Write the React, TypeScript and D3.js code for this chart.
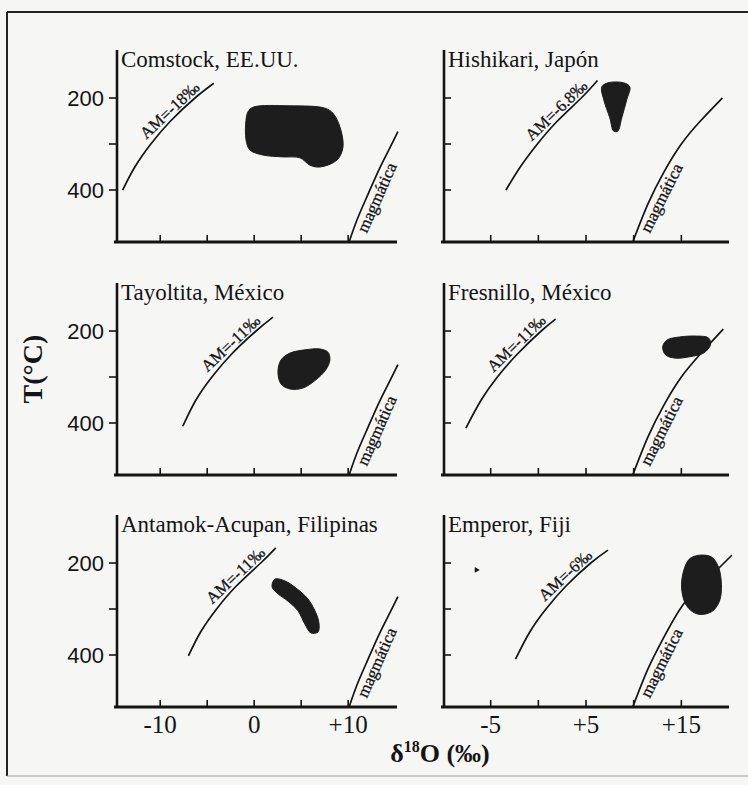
import * as d3 from 'd3';

type Pt = [number, number]; // [δ18O ‰, T °C]

const panelTitles = [
  'Comstock, EE.UU.',
  'Hishikari, Japón',
  'Tayoltita, México',
  'Fresnillo, México',
  'Antamok-Acupan, Filipinas',
  'Emperor, Fiji',
];

const amLabels = ['AM=-18‰', 'AM=-6.8‰', 'AM=-11‰', 'AM=-11‰', 'AM=-11‰', 'AM=-6‰'];

// meteoric-water equilibrium curves
const amCurves: Pt[][] = [
  [[-14, 400], [-12.7, 350], [-11.0, 300], [-8.9, 250], [-6.3, 200], [-4.3, 168]],
  [[-3.4, 400], [-1.9, 350], [-0.1, 300], [2.0, 250], [4.5, 200], [6.2, 162]],
  [[-7.6, 407], [-6.2, 350], [-4.5, 300], [-2.4, 250], [0.2, 200], [2.0, 170]],
  [[-7.6, 411], [-6.0, 350], [-4.3, 300], [-2.2, 250], [0.3, 200], [1.8, 174]],
  [[-7.0, 402], [-5.7, 350], [-4.0, 300], [-1.9, 250], [0.7, 200], [2.3, 167]],
  [[-2.4, 409], [-0.9, 350], [0.8, 300], [2.9, 250], [5.5, 200], [7.3, 172]],
];

// magmatic-water curves
const magmaticCurves: Pt[][] = [
  [[10.1, 513], [11, 462], [12.1, 410], [13.3, 355], [14.4, 310], [15.3, 273]],
  [[9.9, 513], [11.5, 430], [13.2, 360], [15.0, 300], [17.0, 250], [19.3, 200]],
  [[10.1, 513], [11, 462], [12.1, 410], [13.3, 355], [14.4, 310], [15.3, 273]],
  [[9.9, 513], [11.5, 430], [13.2, 360], [15.0, 300], [17.0, 250], [19.4, 196]],
  [[10.1, 513], [11, 462], [12.1, 410], [13.3, 355], [14.4, 310], [15.3, 273]],
  [[9.9, 513], [11.5, 430], [13.2, 360], [15.2, 290], [17.5, 240], [20.3, 183]],
];

// outlines of the measured fields
const blobs: Pt[][] = [
  [[-0.66, 230], [-0.13, 220], [3.8, 217], [7.53, 222], [8.38, 233], [9.13, 263], [9.45, 307],
    [8.81, 335], [7.0, 350], [5.94, 346], [4.87, 330], [3.06, 328], [0.94, 324], [-0.45, 313],
    [-0.87, 291], [-0.87, 248]],
  [[6.65, 176], [7.3, 167], [8.95, 167], [9.6, 176], [9.27, 204], [8.75, 243], [8.33, 272],
    [7.9, 272], [7.49, 243], [6.86, 204]],
  [[2.53, 289], [2.85, 263], [3.81, 248], [5.4, 241], [7.0, 239], [7.85, 246], [8.06, 263],
    [7.6, 285], [6.57, 306], [5.19, 324], [3.81, 326], [2.85, 315]],
  [[13.04, 235], [13.46, 220], [14.8, 213], [16.6, 211], [17.85, 215], [18.06, 230], [17.33, 248],
    [15.86, 256], [14.4, 259], [13.35, 252]],
  [[2.21, 235], [3.28, 239], [4.55, 256], [5.72, 278], [6.47, 304], [6.89, 330], [6.79, 350],
    [6.04, 352], [5.4, 333], [4.66, 304], [3.6, 283], [2.53, 267], [1.9, 252]],
  [[15.24, 217], [15.86, 191], [16.9, 183], [18.17, 187], [18.9, 209], [19.2, 246], [19.0, 283],
    [18.17, 306], [16.7, 311], [15.55, 293], [15.03, 256]],
];

const emperorSpeck: Pt = [-6.5, 215];

const leftXDomain = [-14.6, 15.2];
const rightXDomain = [-9.9, 20];
const tDomain = [100, 513];
const leftXTicks = [-10, -5, 0, 5, 10];
const rightXTicks = [-5, 0, 5, 10, 15];
const leftXTickLabels = [[-10, '-10'], [0, '0'], [10, '+10']] as [number, string][];
const rightXTickLabels = [[-5, '-5'], [5, '+5'], [15, '+15']] as [number, string][];
const tTicks = [200, 300, 400];
const tTickLabels = [200, 400];

const W = 748;
const H = 785;
const colX = [[117, 397], [444, 729]];
const rowTop = [52, 285, 517];
const rowH = 190;
const ink = '#141414';
const serif = "'Liberation Serif', 'Times New Roman', Times, serif";
const sans = "'Liberation Sans', Arial, Helvetica, sans-serif";

function along(curve: Pt[], t: number, sx: d3.ScaleLinear<number, number>, sy: d3.ScaleLinear<number, number>) {
  for (let i = 0; i < curve.length - 1; i++) {
    const [x0, t0] = curve[i];
    const [x1, t1] = curve[i + 1];
    if ((t0 - t) * (t1 - t) <= 0) {
      const f = (t - t0) / (t1 - t0);
      const ang = Math.atan2(sy(t1) - sy(t0), sx(x1) - sx(x0));
      return { px: sx(x0 + f * (x1 - x0)), py: sy(t), ang };
    }
  }
  const [x, tt] = curve[0];
  return { px: sx(x), py: sy(tt), ang: -Math.PI / 4 };
}

function Panel({ i }: { i: number }) {
  const col = i % 2;
  const row = Math.floor(i / 2);
  const [x0, x1] = colX[col];
  const top = rowTop[row];
  const bottom = top + rowH;
  const x = d3.scaleLinear().domain(col === 0 ? leftXDomain : rightXDomain).range([x0, x1]);
  const y = d3.scaleLinear().domain(tDomain).range([top, bottom]);
  const xTicks = col === 0 ? leftXTicks : rightXTicks;
  const xLabels = col === 0 ? leftXTickLabels : rightXTickLabels;

  const line = d3.line<Pt>().x((d) => x(d[0])).y((d) => y(d[1])).curve(d3.curveNatural);
  const closed = d3.line<Pt>().x((d) => x(d[0])).y((d) => y(d[1])).curve(d3.curveCatmullRomClosed.alpha(0.5));

  const am = along(amCurves[i], 240, x, y);
  const amN = [Math.sin(am.ang), -Math.cos(am.ang)];
  const mg = along(magmaticCurves[i], 408, x, y);
  const mgN = [Math.sin(mg.ang), -Math.cos(mg.ang)];
  const deg = (a: number) => (a * 180) / Math.PI;

  const amX = am.px + amN[0] * 3;
  const amY = am.py + amN[1] * 3;
  const mgX = mg.px - mgN[0] * 3;
  const mgY = mg.py - mgN[1] * 3;

  return (
    <g>
      <path d={line(amCurves[i]) || ''} fill="none" stroke={ink} strokeWidth={1.7} />
      <path d={line(magmaticCurves[i]) || ''} fill="none" stroke={ink} strokeWidth={1.7} />
      <path d={closed(blobs[i]) || ''} fill="#1d1d1d" stroke="#1d1d1d" strokeWidth={1} />
      {i === 5 && (
        <path
          d={d3.symbol(d3.symbolTriangle, 14)() || ''}
          transform={`translate(${x(emperorSpeck[0])},${y(emperorSpeck[1])}) rotate(90)`}
          fill={ink}
        />
      )}

      {/* axes */}
      <line x1={x0} x2={x0} y1={top - 2} y2={bottom + 1} stroke={ink} strokeWidth={2.6} />
      <line x1={x0 - 3} x2={x1} y1={bottom} y2={bottom} stroke={ink} strokeWidth={3} />
      {xTicks.map((v) => (
        <line key={v} x1={x(v)} x2={x(v)} y1={bottom} y2={bottom - 7} stroke={ink} strokeWidth={1.6} />
      ))}
      {tTicks.map((v) => (
        <line
          key={v}
          x1={x0}
          x2={col === 0 ? x0 - 8 : x0 + 7}
          y1={y(v)}
          y2={y(v)}
          stroke={ink}
          strokeWidth={1.6}
        />
      ))}
      {col === 0 &&
        tTickLabels.map((v) => (
          <text
            key={v}
            x={x0 - 13}
            y={y(v)}
            dominantBaseline="central"
            textAnchor="end"
            fontFamily={sans}
            fontSize={22}
            fill={ink}
          >
            {v}
          </text>
        ))}
      {row === 2 &&
        xLabels.map(([v, s]) => (
          <text key={v} x={x(v)} y={bottom + 26} textAnchor="middle" fontFamily={serif} fontSize={25} fill={ink}>
            {s}
          </text>
        ))}

      <text x={x0 + 4} y={top + 15} fontFamily={serif} fontSize={23} fill={ink}>
        {panelTitles[i]}
      </text>

      <text
        x={amX}
        y={amY}
        transform={`rotate(${deg(am.ang)},${amX},${amY})`}
        textAnchor="middle"
        fontFamily={serif}
        fontSize={16.5}
        fill={ink}
        stroke={ink}
        strokeWidth={0.3}
      >
        {amLabels[i]}
      </text>
      <text
        x={mgX}
        y={mgY}
        transform={`rotate(${deg(mg.ang)},${mgX},${mgY})`}
        textAnchor="middle"
        dominantBaseline="hanging"
        fontFamily={serif}
        fontSize={17}
        fill={ink}
        stroke={ink}
        strokeWidth={0.3}
      >
        magmática
      </text>
    </g>
  );
}

export default function App() {
  return (
    <svg
      width={W}
      height={H}
      viewBox={`0 0 ${W} ${H}`}
      style={{ position: 'absolute', left: 0, top: 0, display: 'block' }}
    >
      <rect x={0} y={0} width={W} height={H} fill="#f6f6f5" />
      {/* frame */}
      <line x1={7} x2={W} y1={12} y2={12} stroke="#222" strokeWidth={2} />
      <line x1={7} x2={7} y1={12} y2={776} stroke="#222" strokeWidth={2} />
      <line x1={7} x2={W} y1={776} y2={776} stroke="#9a9a9a" strokeWidth={1} />

      {panelTitles.map((_, i) => (
        <Panel key={i} i={i} />
      ))}

      <text
        x={32}
        y={369}
        transform="rotate(-90,32,369)"
        textAnchor="middle"
        dominantBaseline="central"
        fontFamily={serif}
        fontWeight="bold"
        fontSize={28}
        fill={ink}
      >
        T(°C)
      </text>
      <text x={440} y={762} textAnchor="middle" fontFamily={serif} fontWeight="bold" fontSize={26} fill={ink}>
        δ
        <tspan fontSize={16} dy={-10}>
          18
        </tspan>
        <tspan dy={10}>O (‰)</tspan>
      </text>
    </svg>
  );
}
